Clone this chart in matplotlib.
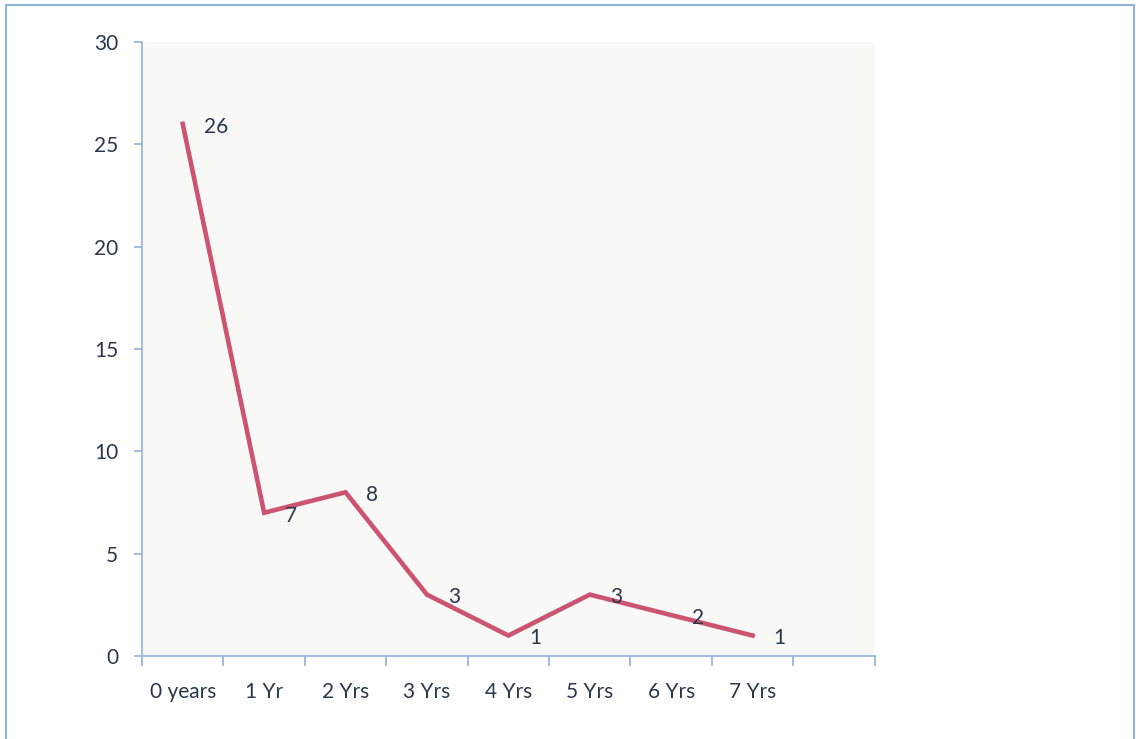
import matplotlib.pyplot as plt
from matplotlib.patches import Rectangle

# data
years = ['0 years', '1 Yr', '2 Yrs', '3 Yrs', '4 Yrs', '5 Yrs', '6 Yrs', '7 Yrs']
counts = [26, 7, 8, 3, 1, 3, 2, 1]
n_slots = 9  # axis has one empty category at the end

plt.rcParams['font.family'] = ['Lato', 'DejaVu Sans']

line_color = '#cc5470'
axis_color = '#8fb2dc'
text_color = '#2a3848'

fig = plt.figure(figsize=(11.36, 7.39), dpi=100)
ax = fig.add_axes([0.125, 0.1123, 0.645, 0.8309])
ax.set_facecolor('#f8f8f7')

x = [i + 0.5 for i in range(len(counts))]
ax.plot(x, counts, color=line_color, linewidth=3.3, solid_joinstyle='miter')

for xi, v in zip(x, counts):
    ax.annotate(str(v), (xi, v), xytext=(15, -2), textcoords='offset points',
                ha='left', va='center', fontsize=15, color=text_color)

ax.set_xlim(0, n_slots)
ax.set_ylim(0, 30)
ax.set_yticks(range(0, 31, 5))
ax.set_xticks(range(0, n_slots + 1))
ax.set_xticklabels([])
ax.set_xticks(x, minor=True)
ax.set_xticklabels(years, minor=True)
ax.tick_params(axis='x', which='minor', length=0, pad=19, labelsize=15, labelcolor=text_color)
ax.tick_params(axis='x', which='major', length=7, width=1.2, color=axis_color, direction='out')
ax.tick_params(axis='y', length=6, width=1.2, color=axis_color, pad=11,
               labelsize=15, labelcolor=text_color)

for side in ['top', 'right']:
    ax.spines[side].set_visible(False)
for side in ['left', 'bottom']:
    ax.spines[side].set_color(axis_color)
    ax.spines[side].set_linewidth(1.2)

# thin border round the chart
fig.patches.append(Rectangle((0.005, -0.01), 0.993, 1.003, transform=fig.transFigure,
                             fill=False, edgecolor=axis_color, linewidth=1.5))

fig.savefig('out.png', dpi=100)
